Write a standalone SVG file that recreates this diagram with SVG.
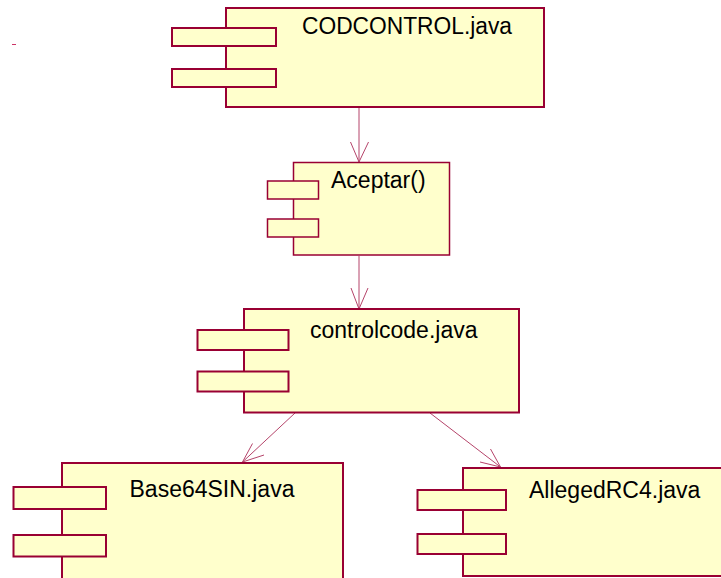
<svg xmlns="http://www.w3.org/2000/svg" width="721" height="578" viewBox="0 0 721 578">
<style>
.body{fill:#FFFFCC;stroke:#990033;stroke-width:2}
.port{fill:#FFFFCC;stroke:#990033;stroke-width:2}
.thin{stroke-width:1.5}
.lbl{font-family:"Liberation Sans",Arial,sans-serif;font-size:23px;fill:#000}
.conn{stroke:#B5446A;stroke-width:1;fill:none}
</style>
<rect width="721" height="578" fill="#FFFFFF"/>
<line x1="12" y1="44.5" x2="16" y2="44.5" stroke="#CC3366" stroke-width="1"/>
<g id="connectors">
<line class="conn" x1="359" y1="108" x2="359" y2="162"/>
<polyline class="conn" points="350.5,142 359,162 368.5,142"/>
<line class="conn" x1="359" y1="256" x2="359" y2="309"/>
<polyline class="conn" points="351,288 359,309 368,288"/>
<line class="conn" x1="295" y1="413" x2="242.5" y2="462"/>
<polyline class="conn" points="252.5,443.5 242.5,462 264,455"/>
<line class="conn" x1="430" y1="413" x2="500.5" y2="467"/>
<polyline class="conn" points="490.5,449 500.5,467 480,462"/>
</g>
<g id="codcontrol">
<rect class="body" x="226" y="8" width="318" height="99"/>
<rect class="port" x="172" y="28" width="104" height="18"/>
<rect class="port" x="172" y="69" width="104" height="18"/>
<text class="lbl" x="302" y="34" textLength="210" lengthAdjust="spacingAndGlyphs">CODCONTROL.java</text>
</g>
<g id="aceptar">
<rect class="body thin" x="293.5" y="162.5" width="156" height="92.5"/>
<rect class="port thin" x="267.5" y="181" width="51" height="18"/>
<rect class="port thin" x="267.5" y="219" width="51" height="18"/>
<text class="lbl" x="331" y="188">Aceptar()</text>
</g>
<g id="controlcode">
<rect class="body" x="244" y="309" width="275" height="103.5"/>
<rect class="port" x="197.5" y="330" width="91" height="20"/>
<rect class="port" x="197.5" y="371.5" width="91" height="20"/>
<text class="lbl" x="310" y="337.5">controlcode.java</text>
</g>
<g id="base64sin">
<rect class="body" x="62" y="463" width="281" height="120"/>
<rect class="port" x="13.5" y="487" width="92.5" height="22"/>
<rect class="port" x="13.5" y="535" width="92.5" height="21.5"/>
<text class="lbl" x="129.5" y="496.5">Base64SIN.java</text>
</g>
<g id="allegedrc4">
<rect class="body" x="463" y="468" width="262" height="108"/>
<rect class="port" x="417.5" y="490" width="88.5" height="20"/>
<rect class="port" x="417.5" y="534" width="88.5" height="20"/>
<text class="lbl" x="529" y="498">AllegedRC4.java</text>
</g>
</svg>
